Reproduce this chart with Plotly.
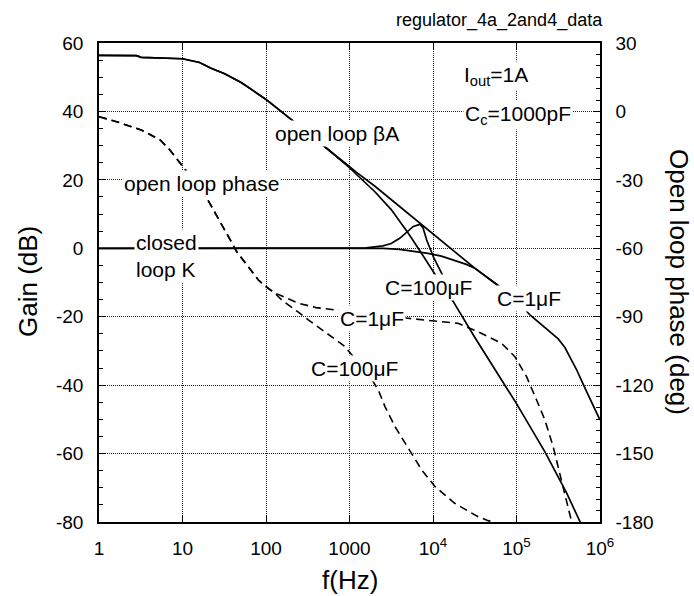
import plotly.graph_objects as go

# ---------------- data ----------------
# open loop gain beta*A (dB)
f_ol_1u = [1, 2.8, 3.2, 10, 16, 22, 32, 51, 100, 200, 316, 510, 1000, 1260, 2000, 3160,
           10000, 31600, 59700, 1e5, 1.45e5, 2.51e5, 3.16e5, 3.8e5, 4.57e5, 5.25e5, 6.3e5, 7.94e5, 1e6]
g_ol_1u = [56.4, 56.3, 55.8, 55.4, 54.3, 52.6, 51.0, 48.4, 43.5, 37.8, 33.8, 29.6, 23.8, 21.9, 18.2, 14.2,
           4.2, -5.8, -10.8, -15.2, -19.5, -24.3, -26.5, -29.0, -32.5, -35.5, -39.8, -44.8, -50.2]

f_ol_100u = [1, 2.8, 3.2, 10, 16, 22, 32, 51, 100, 200, 316, 510, 1000, 1260, 2000, 3160, 4030, 5060,
             7080, 10000, 12600, 17500, 31600, 1e5, 2.19e5, 3.98e5, 5.75e5, 6.6e5]
g_ol_100u = [56.4, 56.3, 55.8, 55.4, 54.3, 52.6, 51.0, 48.4, 43.5, 37.8, 33.8, 29.6, 23.6, 21.2, 16.6, 11.3, 7.9, 4.4,
             -1.0, -6.8, -10.5, -15.6, -26.0, -45.4, -59.5, -71.5, -79.7, -83.0]

# closed loop gain K (dB)
f_cl_1u = [1, 2510, 3980, 6310, 8710, 12600, 18200, 25100, 31600, 59700]
g_cl_1u = [0, 0, -0.3, -0.9, -1.5, -2.3, -3.5, -4.7, -5.8, -10.8]

f_cl_100u = [1, 1580, 2510, 3160, 4030, 5010, 5810, 6980, 7590, 8400, 10100, 12700, 17500]
g_cl_100u = [0, 0.1, 0.7, 1.4, 3.0, 5.0, 6.4, 7.0, 6.0, 2.4, -2.5, -7.3, -15.6]

# open loop phase (deg)
f_ph_common = [1, 1.62, 3.2, 5.4, 7.1, 10.2, 18.6, 35.5, 44.7, 81, 100, 126]
p_ph_common = [-2.3, -4.5, -8.1, -12.5, -17.0, -24.2, -36.6, -54.9, -61.5, -73.9, -76.8, -79.5]

f_ph_1u = [158, 244, 398, 670, 1580, 5010, 1e4, 2e4, 3.47e4, 6.6e4, 9.55e4, 1.32e5, 1.74e5,
           2.19e5, 2.75e5, 3.31e5, 3.8e5, 4.57e5, 4.8e5]
p_ph_1u = [-81.0, -84.1, -86.0, -87.1, -88.6, -90.7, -91.7, -92.9, -96.6, -101.6, -107.5, -116.3, -126.5,
           -135.3, -147.0, -158.6, -167.4, -179.4, -183.0]

f_ph_100u = [158, 244, 321, 501, 883, 1260, 1780, 2210, 2660, 3510, 5560, 7330, 1.06e4, 1.82e4,
             3.47e4, 4.57e4, 6.3e4]
p_ph_100u = [-83.0, -88.0, -91.4, -96.5, -103.1, -110.0, -116.5, -122.1, -129.4, -138.2, -149.9, -157.2,
             -164.5, -171.8, -177.7, -179.4, -181.0]

x_tickvals = [1, 10, 100, 1000, 1e4, 1e5, 1e6]
x_ticktext = ["1", "10", "100", "1000", "10<sup>4</sup>", "10<sup>5</sup>", "10<sup>6</sup>"]
gain_ticks = [-80, -60, -40, -20, 0, 20, 40, 60]
gain_ticktext = ["-80", "-60", "-40", "-20", "0", "20", "40", "60"]
phase_ticks = [-180, -150, -120, -90, -60, -30, 0, 30]
phase_ticktext = ["-180", "-150", "-120", "-90", "-60", "-30", "0", "30"]

# ---------------- figure ----------------
FONT = "Liberation Sans, Arial, sans-serif"
W, H = 694, 596
L, R, T, B = 99, 600, 43, 522  # plot area in pixels


def P(px, py):
    return (px - L) / (R - L), (B - py) / (B - T)


fig = go.Figure()
solid = dict(color="black", width=1.7)
dashed = dict(color="black", width=1.6, dash="8px,5px")

fig.add_trace(go.Scatter(x=f_ol_1u, y=g_ol_1u, mode="lines", line=solid, yaxis="y"))
fig.add_trace(go.Scatter(x=f_ol_100u, y=g_ol_100u, mode="lines", line=solid, yaxis="y"))
fig.add_trace(go.Scatter(x=f_cl_1u, y=g_cl_1u, mode="lines", line=solid, yaxis="y"))
fig.add_trace(go.Scatter(x=f_cl_100u, y=g_cl_100u, mode="lines", line=solid, yaxis="y"))
fig.add_trace(go.Scatter(x=f_ph_common + f_ph_1u, y=p_ph_common + p_ph_1u, mode="lines",
                         line=dashed, yaxis="y2"))
fig.add_trace(go.Scatter(x=f_ph_common + f_ph_100u, y=p_ph_common + p_ph_100u, mode="lines",
                         line=dashed, yaxis="y2"))

grid = dict(showgrid=True, gridcolor="#222", gridwidth=1, griddash="1px,1px")

fig.update_layout(
    width=W, height=H,
    margin=dict(l=L, r=W - R, t=T, b=H - B, pad=0),
    paper_bgcolor="white", plot_bgcolor="white",
    showlegend=False,
    font=dict(family=FONT, size=19, color="black"),
    xaxis=dict(type="log", range=[0, 6], tickvals=x_tickvals, ticktext=x_ticktext,
               ticks="inside", ticklen=7, tickcolor="black", showline=True, linecolor="black",
               linewidth=1.5, mirror="ticks", zeroline=False, ticklabelstandoff=8,
               tickfont=dict(size=19), **grid),
    yaxis=dict(range=[-80, 60], tickvals=gain_ticks, ticktext=gain_ticktext,
               ticks="inside", ticklen=7, tickcolor="black",
               showline=True, linecolor="black", linewidth=1.5, zeroline=False,
               ticklabelstandoff=10, tickfont=dict(size=19),
               minor=dict(dtick=5, ticks="inside", ticklen=4, tickcolor="black", showgrid=False),
               **grid),
    yaxis2=dict(range=[-180, 30], tickvals=phase_ticks, ticktext=phase_ticktext,
                overlaying="y", side="right", ticks="inside",
                ticklen=7, tickcolor="black", showline=True, linecolor="black", linewidth=1.5,
                zeroline=False, showgrid=False, ticklabelstandoff=10, tickfont=dict(size=19),
                minor=dict(dtick=5, ticks="inside", ticklen=4, tickcolor="black", showgrid=False)),
)

annots = []


def label(text, px, py, size=21, xanchor="center", align="center", bg="white"):
    x, y = P(px, py)
    annots.append(dict(text=text, x=x, y=y, xref="paper", yref="paper", showarrow=False,
                       xanchor=xanchor, yanchor="middle", align=align, bgcolor=bg,
                       borderpad=1, font=dict(family=FONT, size=size, color="black")))


label("open loop βA", 337, 133)
label("open loop phase", 201, 183)
label("closed<br>loop K", 134, 256, xanchor="left", align="left")
label("I<sub>out</sub>=1A", 462, 76, size=21, xanchor="left", align="left")
label("C<sub>c</sub>=1000pF", 463, 115, size=21, xanchor="left", align="left")
label("C=100μF", 428, 287)
label("C=1μF", 529, 298)
label("C=1μF", 372, 318)
label("C=100μF", 354, 368)

# title and axis titles
tx, ty = P(605, 21)
annots.append(dict(text="regulator_4a_2and4_data", x=tx, y=ty, xref="paper", yref="paper",
                   showarrow=False, xanchor="right", yanchor="middle",
                   font=dict(family=FONT, size=18, color="black")))
tx, ty = P(350, 580)
annots.append(dict(text="f(Hz)", x=tx, y=ty, xref="paper", yref="paper", showarrow=False,
                   xanchor="center", yanchor="middle", font=dict(family=FONT, size=26, color="black")))
tx, ty = P(28, 282)
annots.append(dict(text="Gain (dB)", x=tx, y=ty, xref="paper", yref="paper", showarrow=False,
                   xanchor="center", yanchor="middle", textangle=-90,
                   font=dict(family=FONT, size=26, color="black")))
tx, ty = P(679, 282)
annots.append(dict(text="Open loop phase (deg)", x=tx, y=ty, xref="paper", yref="paper",
                   showarrow=False, xanchor="center", yanchor="middle", textangle=90,
                   font=dict(family=FONT, size=26, color="black")))

fig.update_layout(annotations=annots)
fig.write_html("out.html")
